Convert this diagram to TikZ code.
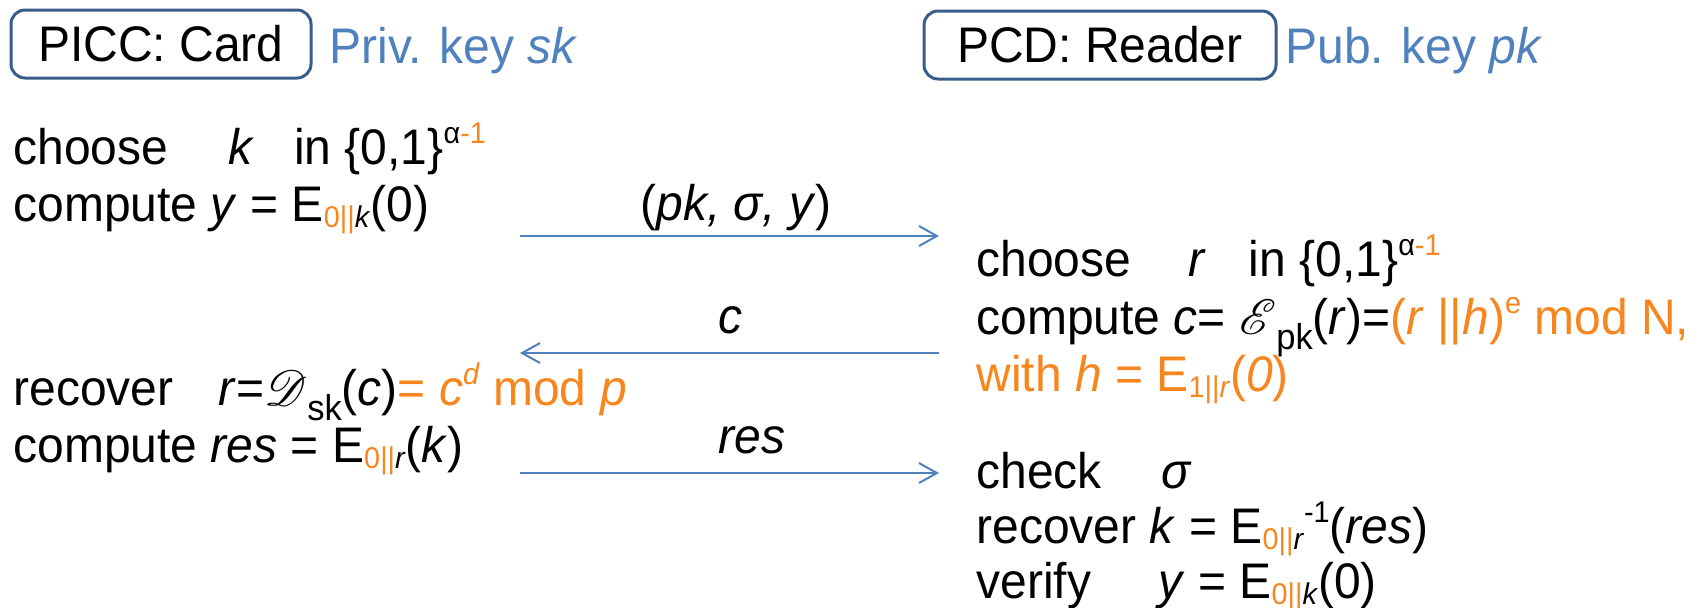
\documentclass[tikz,border=0pt]{standalone}
\usepackage{fontspec}
\setmainfont[FakeStretch=0.96]{Liberation Sans}
\usepackage{mathrsfs}
\usetikzlibrary{arrows.meta}

\definecolor{keyblue}{RGB}{79,129,189}
\definecolor{boxblue}{RGB}{56,93,138}
\definecolor{hiorange}{RGB}{247,134,30}

% small lowered index and raised exponent
\newcommand{\lsub}[1]{\raisebox{-0.12em}{\fontsize{15pt}{15pt}\selectfont #1}}
\newcommand{\keysub}[1]{\raisebox{-0.3em}{\fontsize{18pt}{18pt}\selectfont #1}}
\newcommand{\upsup}[1]{\raisebox{0.42em}{\fontsize{15pt}{15pt}\selectfont #1}}
\newcommand{\orng}[1]{\textcolor{hiorange}{#1}}

\begin{document}
\begin{tikzpicture}[x=0.5pt, y=-0.5pt,
    every node/.style={font=\fontsize{25pt}{30pt}\selectfont, inner sep=0pt},
    party/.style={draw=boxblue, line width=1.5pt, rounded corners=7pt, minimum height=34pt},
    line/.style={anchor=base west},
    msg/.style={draw=keyblue, line width=1pt, -{Straight Barb[length=9pt, width=10pt]}}]

    \useasboundingbox (0, 0) rectangle (1700, 607);

    \node [party, minimum width=150pt] (card) at (161, 44) {PICC: Card};
    \node [line, color=keyblue] (privkey) at (329, 63) {Priv. key \textit{sk}};
    \node [party, minimum width=176pt] (reader) at (1100, 45) {PCD: Reader};
    \node [line, color=keyblue] (pubkey) at (1285, 63) {Pub. key \textit{pk}};

    \node [line] (l1) at (13, 164) {choose\hspace{1.2em}\textit{k}\hspace{0.8em}in \{0,1\}\upsup{α\orng{-1}}};
    \node [line] (l2) at (13, 221) {compute \textit{y} = E\lsub{\orng{0||}\textit{k}}(0)};
    \node [line] (l3) at (13, 405) {recover\hspace{0.9em}\textit{r}=$\mathscr{D}$\keysub{sk}(\textit{c})\orng{= \textit{c}\upsup{\textit{d}} mod \textit{p}}};
    \node [line] (l4) at (13, 462) {compute \textit{res} = E\lsub{\orng{0||}\textit{r}}(\textit{k})};

    \node [line] (r1) at (976, 276) {choose\hspace{1.15em}\textit{r}\hspace{0.85em}in \{0,1\}\upsup{α\orng{-1}}};
    \node [line] (r2) at (976, 334) {compute \textit{c}= $\mathscr{E}$\keysub{pk}(\textit{r})=\orng{(\textit{r} ||\textit{h})\upsup{e} mod N,}};
    \node [line, color=hiorange] (r3) at (976, 391) {with \textit{h} = E\lsub{1||\textit{r}}(\textit{0})};
    \node [line] (r4) at (976, 488) {check\hspace{1.2em}\textit{σ}};
    \node [line] (r5) at (976, 543) {recover \textit{k} = E\lsub{\orng{0||}\textit{r}}\upsup{-1}(\textit{res})};
    \node [line] (r6) at (976, 598) {verify\hspace{1.35em}\textit{y} = E\lsub{\orng{0||}\textit{k}}(0)};

    \coordinate (a1) at (520, 236);
    \coordinate (b1) at (939, 236);
    \coordinate (a2) at (520, 353);
    \coordinate (b2) at (939, 353);
    \coordinate (a3) at (520, 473);
    \coordinate (b3) at (939, 473);

    \draw [msg] (a1) to (b1);
    \draw [msg] (b2) to (a2);
    \draw [msg] (a3) to (b3);

    \node [anchor=base] (m1) at (736, 220) {(\textit{pk, σ, y})};
    \node [anchor=base] (m2) at (730, 333) {\textit{c}};
    \node [anchor=base] (m3) at (752, 453) {\textit{res}};

\end{tikzpicture}
\end{document}
